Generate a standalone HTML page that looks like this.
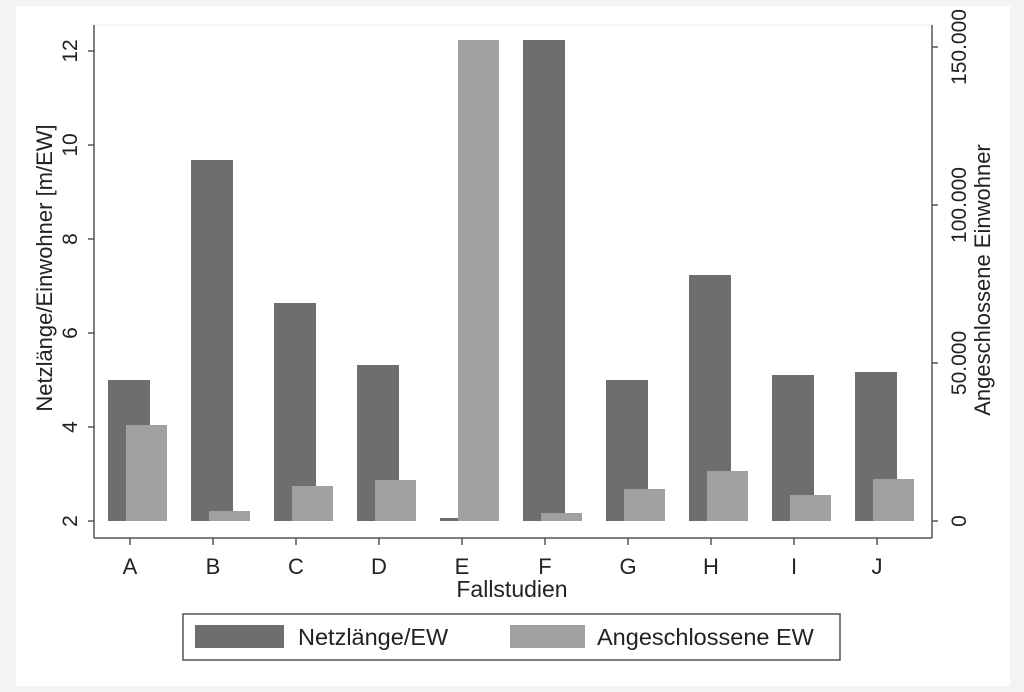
<!DOCTYPE html>
<html><head><meta charset="utf-8"><style>
body{margin:0;background:#f3f3f3;}
svg{display:block;font-family:"Liberation Sans",sans-serif;}
</style></head><body>
<svg width="1024" height="692" viewBox="0 0 1024 692">
<rect x="0" y="0" width="1024" height="692" fill="#f3f3f3"/>
<rect x="16" y="6" width="994" height="680" fill="#ffffff"/>
<rect x="94" y="25" width="838" height="513" fill="#ffffff" stroke="#ececec" stroke-width="1"/>
<g fill="#6e6e6e">
<rect x="108" y="380" width="42" height="141"/>
<rect x="191" y="160" width="42" height="361"/>
<rect x="274" y="303" width="42" height="218"/>
<rect x="357" y="365" width="42" height="156"/>
<rect x="440" y="518" width="42" height="3"/>
<rect x="523" y="40" width="42" height="481"/>
<rect x="606" y="380" width="42" height="141"/>
<rect x="689" y="275" width="42" height="246"/>
<rect x="772" y="375" width="42" height="146"/>
<rect x="855" y="372" width="42" height="149"/>
</g>
<g fill="#a0a0a0">
<rect x="126" y="425" width="41" height="96"/>
<rect x="209" y="511" width="41" height="10"/>
<rect x="292" y="486" width="41" height="35"/>
<rect x="375" y="480" width="41" height="41"/>
<rect x="458" y="40" width="41" height="481"/>
<rect x="541" y="513" width="41" height="8"/>
<rect x="624" y="489" width="41" height="32"/>
<rect x="707" y="471" width="41" height="50"/>
<rect x="790" y="495" width="41" height="26"/>
<rect x="873" y="479" width="41" height="42"/>
</g>
<g stroke="#555" stroke-width="1.5" fill="none">
<line x1="94" y1="25" x2="94" y2="538"/>
<line x1="94" y1="538" x2="932" y2="538"/>
<line x1="932" y1="25" x2="932" y2="538"/>
<line x1="88" y1="51" x2="94" y2="51"/>
<line x1="88" y1="145" x2="94" y2="145"/>
<line x1="88" y1="239" x2="94" y2="239"/>
<line x1="88" y1="333" x2="94" y2="333"/>
<line x1="88" y1="427" x2="94" y2="427"/>
<line x1="88" y1="521" x2="94" y2="521"/>
<line x1="932" y1="521" x2="938" y2="521"/>
<line x1="932" y1="363" x2="938" y2="363"/>
<line x1="932" y1="205" x2="938" y2="205"/>
<line x1="932" y1="47" x2="938" y2="47"/>
<line x1="130" y1="538" x2="130" y2="545"/><line x1="213" y1="538" x2="213" y2="545"/>
<line x1="296" y1="538" x2="296" y2="545"/><line x1="379" y1="538" x2="379" y2="545"/>
<line x1="462" y1="538" x2="462" y2="545"/><line x1="545" y1="538" x2="545" y2="545"/>
<line x1="628" y1="538" x2="628" y2="545"/><line x1="711" y1="538" x2="711" y2="545"/>
<line x1="794" y1="538" x2="794" y2="545"/><line x1="877" y1="538" x2="877" y2="545"/>
</g>
<g fill="#222" font-size="21" text-anchor="middle">
<text transform="translate(77,51) rotate(-90)">12</text>
<text transform="translate(77,145) rotate(-90)">10</text>
<text transform="translate(77,239) rotate(-90)">8</text>
<text transform="translate(77,333) rotate(-90)">6</text>
<text transform="translate(77,427) rotate(-90)">4</text>
<text transform="translate(77,521) rotate(-90)">2</text>
<text transform="translate(966,521) rotate(-90)">0</text>
<text transform="translate(966,363) rotate(-90)">50.000</text>
<text transform="translate(966,205) rotate(-90)">100.000</text>
<text transform="translate(966,47) rotate(-90)">150.000</text>
</g>
<g fill="#222" font-size="22" text-anchor="middle">
<text transform="translate(52,268) rotate(-90)">Netzlänge/Einwohner [m/EW]</text>
<text transform="translate(990,280) rotate(-90)">Angeschlossene Einwohner</text>
<text x="130" y="574">A</text><text x="213" y="574">B</text><text x="296" y="574">C</text>
<text x="379" y="574">D</text><text x="462" y="574">E</text><text x="545" y="574">F</text>
<text x="628" y="574">G</text><text x="711" y="574">H</text><text x="794" y="574">I</text>
<text x="877" y="574">J</text>
</g>
<text x="512" y="597" fill="#222" font-size="23" text-anchor="middle">Fallstudien</text>
<rect x="183" y="614" width="657" height="46" fill="#fff" stroke="#555" stroke-width="1.5"/>
<rect x="195" y="625" width="89" height="23" fill="#6e6e6e"/>
<rect x="510" y="625" width="75" height="23" fill="#a0a0a0"/>
<g fill="#222" font-size="23.5">
<text x="298" y="645">Netzlänge/EW</text>
<text x="597" y="645">Angeschlossene EW</text>
</g>
</svg>
</body></html>
